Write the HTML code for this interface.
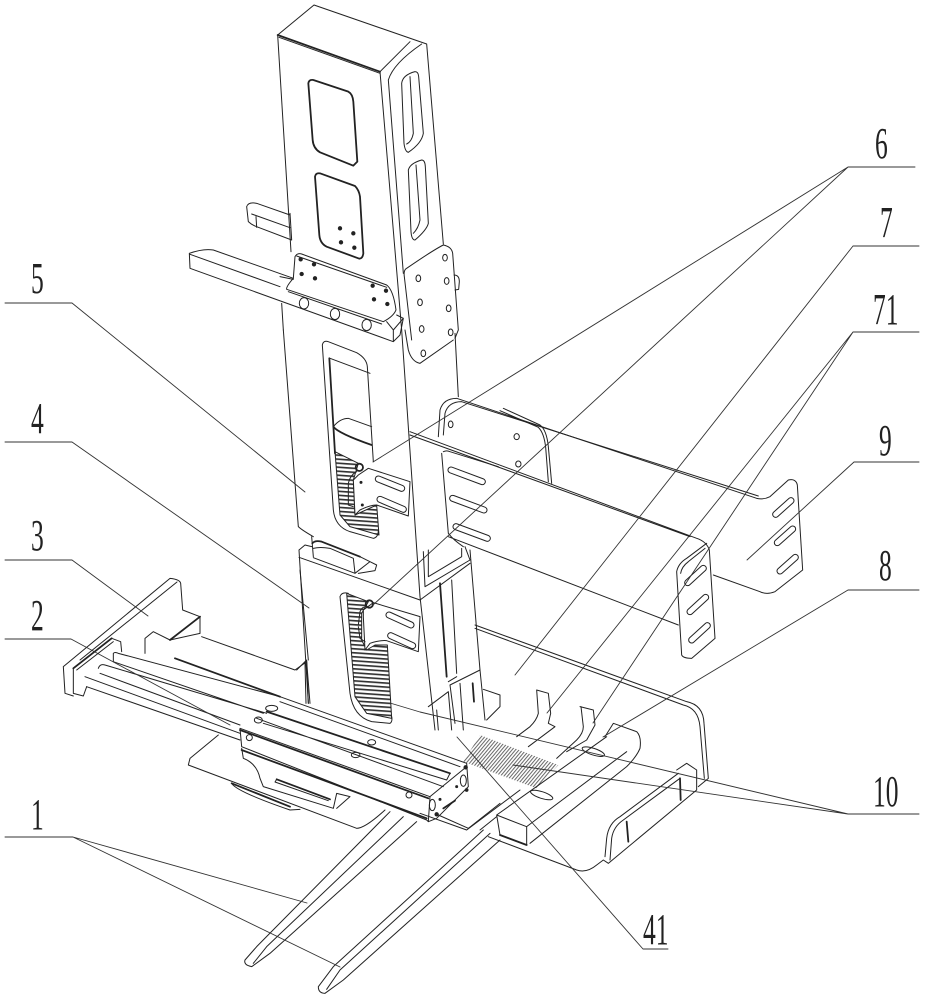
<!DOCTYPE html>
<html><head><meta charset="utf-8"><style>
html,body{margin:0;padding:0;background:#fff}
svg{display:block}
path,line,ellipse,circle{vector-effect:non-scaling-stroke;fill:none;stroke:#222;stroke-width:1;stroke-linejoin:round;stroke-linecap:round}
.t{stroke-width:1.8}
.l{stroke-width:.9;stroke:#333}
.sb{stroke-width:7;stroke:#222}
.sw{stroke-width:5;stroke:#fff}
.h{fill:#222;stroke-width:1}
text{font-family:"Liberation Serif",serif;font-size:44px;fill:#222}
</style></head><body>
<svg width="925" height="1000" viewBox="0 0 925 1000" xmlns="http://www.w3.org/2000/svg">
<defs>
<pattern id="hz" patternUnits="userSpaceOnUse" width="30" height="12" patternTransform="rotate(4)"><rect width="30" height="5" fill="#333"/></pattern>
<pattern id="dg" patternUnits="userSpaceOnUse" width="8" height="8" patternTransform="rotate(-50)"><rect width="8" height="3" fill="#666"/></pattern>
</defs>

<!-- Z1: upper column -->
<g transform="translate(180,20) scale(.33333)">
<path d="M293,45L402,-45L740,72L790,672"/>
<path class="t" d="M293,45L600,155"/>
<path d="M297,52L600,160M600,155L690,65M600,155L665,930M725,72Q640,130 625,180L670,760M293,45L333,695M305,850L310,930"/>
<path d="M665,190Q668,165 705,155Q715,155 716,170L730,340Q725,370 685,397Q675,395 672,370ZM690,170L700,340Q695,365 680,372"/>
<path d="M685,450Q690,430 725,420Q735,420 736,440L745,610Q740,630 705,660Q695,660 693,635ZM708,435L720,600Q715,625 700,640"/>
<path class="t" d="M385,190Q387,178 400,180L505,215Q518,222 520,245L532,425L520,437L420,397Q400,385 398,360Z"/>
<path class="t" d="M405,470Q407,458 420,460L525,498Q537,510 540,530L550,700Q548,716 538,716L440,680Q420,670 418,645Z"/>
<circle class="h" cx="480" cy="625" r="5"/><circle class="h" cx="520" cy="640" r="5"/><circle class="h" cx="483" cy="667" r="5"/><circle class="h" cx="523" cy="683" r="5"/>
<path d="M345,710Q352,698 365,702L620,795Q640,810 648,870Q640,890 610,905L320,808Q318,800 340,775Z"/>
<path d="M350,708L620,802M325,815L605,912"/>
<circle class="h" cx="362" cy="718" r="5"/><circle class="h" cx="402" cy="733" r="5"/><circle class="h" cx="365" cy="762" r="5"/><circle class="h" cx="405" cy="775" r="5"/><circle class="h" cx="578" cy="797" r="5"/><circle class="h" cx="618" cy="812" r="5"/><circle class="h" cx="582" cy="838" r="5"/><circle class="h" cx="622" cy="852" r="5"/>
<path d="M330,585L230,550Q205,545 200,560L205,605Q215,615 230,620L335,660M215,582L330,623M228,590L230,622M330,580L335,660"/>
<path d="M340,775L100,690Q70,685 28,700L30,745L640,965L660,945L670,895L650,885M30,703L300,800M300,770L340,778M640,930L640,962M620,905L640,930L670,895"/>
<ellipse cx="372" cy="850" rx="14" ry="17"/><ellipse cx="465" cy="882" rx="14" ry="17"/><ellipse cx="560" cy="915" rx="14" ry="17"/>
<path d="M680,745Q760,690 790,675Q815,680 818,700L835,930L825,955M680,745Q670,750 673,770L695,960M822,765Q838,765 838,785L836,808L825,810"/>
<ellipse cx="795" cy="713" rx="7" ry="10"/><ellipse cx="715" cy="775" rx="7" ry="10"/><ellipse cx="800" cy="783" rx="7" ry="10"/><ellipse cx="720" cy="847" rx="7" ry="10"/><ellipse cx="806" cy="865" rx="7" ry="10"/><ellipse cx="725" cy="927" rx="7" ry="10"/><ellipse cx="812" cy="937" rx="7" ry="10"/>
</g>

<!-- Z2: middle -->
<g transform="translate(280,330) scale(.33333)">
<path d="M375,0L385,60Q395,95 420,100L520,30"/>
<ellipse cx="430" cy="70" rx="7" ry="10"/>
<path d="M10,0L55,590Q65,600 100,620M365,0L420,800L465,1200M525,10L535,200"/>
<path d="M127,45Q130,30 145,35L230,68Q260,85 262,110L280,395M127,45L160,540Q165,590 210,605L280,625Q295,622 295,600"/>
<path class="t" d="M148,85L165,370"/>
<path d="M150,85L270,130"/>
<path class="t" d="M160,290Q175,310 275,345"/>
<path d="M160,290Q180,265 205,265L275,290"/>
<path d="M165,365L235,400L220,450L225,555L290,525L297,615L210,590L180,555Z" style="fill:url(#hz)"/>
<path d="M220,450L225,555L240,540Q270,525 290,525L385,558L390,455L265,415L235,435Z" style="fill:#fff"/>
<path class="sb" d="M295,447L365,475M300,508L370,538"/><path class="sw" d="M295,447L365,475M300,508L370,538"/>
<path d="M205,525L205,460Q210,435 230,425M220,530L205,525"/>
<circle cx="238" cy="412" r="11" class="t"/>
<circle class="h" cx="243" cy="457" r="3"/><circle class="h" cx="247" cy="525" r="3"/>

<path d="M200,790L265,815L245,850L245,930L260,960L285,945L322,945L335,1165L260,1150L225,1100Z" style="fill:url(#hz)"/>
<path d="M180,800Q185,785 205,790M180,800L210,1090Q220,1160 275,1175L330,1180Q338,1175 335,1160"/>
<path d="M250,860L255,960L270,940Q300,930 320,932L415,965L420,860L280,818L250,840Z" style="fill:#fff"/>
<path class="sb" d="M327,855L393,885M332,917L398,947"/><path class="sw" d="M327,855L393,885M332,917L398,947"/>
<path d="M235,885L240,845Q245,830 260,830M235,890L240,925L255,935"/>
<circle cx="268" cy="822" r="11" class="t"/>

<path d="M57,660L85,1120M95,620L100,680M57,682L420,810M57,660L75,645L95,650"/>
<path class="t" d="M97,640Q105,630 125,635L240,680"/>
<path d="M100,655Q120,650 150,655L220,685L225,730L270,695L290,705L285,722L235,730M240,680Q260,690 270,695M100,683L225,730"/>
<path d="M50,1020L80,990L85,1120M75,1000L78,1120"/>
<path d="M430,665L435,770L570,690L555,650M445,660L445,740L545,680L545,655M570,660L600,1020M420,810L570,700"/>
<path class="t" d="M480,760L500,1040"/>
<path d="M515,750L530,1030M510,1065L600,1020L615,1170M510,1065L525,1180M540,1060L550,1200M445,1130L505,1085L515,1200M470,1140L475,1200M610,1078L660,1095L660,1130L620,1170M505,1055L530,1040"/>
<path class="t" d="M578,1060L582,1115"/>
</g>

<!-- Z4: panels and base -->
<g transform="translate(420,390) scale(.33333)">
<path d="M55,140L60,60Q70,25 110,25L1010,325Q1030,330 1050,320L1105,270Q1128,265 1132,285L1148,540L1065,605Q1040,615 1020,605L880,555"/>
<path d="M70,135L75,70Q85,35 125,35L1015,318"/>
<path d="M250,55L360,105Q380,120 385,170L395,280M240,62L355,112Q372,128 377,172L385,275"/>
<ellipse cx="92" cy="103" rx="7" ry="10"/><ellipse cx="290" cy="140" rx="8" ry="9"/><ellipse cx="295" cy="222" rx="8" ry="9"/>
<path class="sb" d="M1067,373L1113,332M1072,458L1118,417M1080,543L1126,502"/><path class="sw" d="M1067,373L1113,332M1072,458L1118,417M1080,543L1126,502"/>
<path d="M-30,125L830,445Q860,455 868,480L885,745L815,805Q790,805 785,795L770,545Q775,520 800,505L860,460M-30,135L810,440M782,550Q785,530 805,515L855,475"/>
<path d="M65,190L85,430Q100,450 130,470M70,185Q80,180 90,185L235,230M85,440L775,705"/>
<path class="sb" d="M93,240L187,275M98,325L192,360M108,410L202,445"/><path class="sw" d="M93,240L187,275M98,325L192,360M108,410L202,445"/>
<path class="sb" d="M803,578L850,535M810,665L857,622M815,750L862,707"/><path class="sw" d="M803,578L850,535M810,665L857,622M815,750L862,707"/>
<path d="M165,705L800,935Q850,945 852,1000L865,1165L835,1190M165,715L790,945Q835,955 840,1010L853,1165"/>
<path d="M350,900L385,910L392,970L385,1000L405,1010L325,1070M350,900L355,970Q350,990 330,1010L290,1040"/>
<path d="M480,950L520,960L525,1005L500,1050L440,1085M483,950L490,1010Q490,1030 470,1050L410,1105"/>
<path d="M180,1035L415,1125L350,1195L130,1115Z" style="fill:url(#dg);stroke:none"/>
<path d="M555,1040L580,1000L650,1025Q665,1040 660,1075Q650,1100 620,1130L330,1360M230,1275L320,1310L320,1365L240,1335ZM230,1275L560,1040M320,1310L620,1085"/>
<path d="M205,1340L470,1440Q500,1450 530,1425L550,1410L565,1420L830,1200L830,1140L800,1120L770,1140M555,1400L560,1345Q565,1300 600,1280L775,1150M570,1410L575,1345Q580,1310 610,1290L780,1165"/>
<path class="t" d="M240,1335L320,1365M620,1295L625,1355M780,1165L782,1230"/>
<ellipse cx="365" cy="1215" rx="35" ry="10" transform="rotate(18 365 1215)"/><ellipse cx="520" cy="1085" rx="35" ry="10" transform="rotate(18 520 1085)"/>
<path d="M0,1270L140,1320L300,1200M180,1320L230,1280"/>
</g>

<!-- Z3: carriage, forks -->
<g transform="translate(50,570) scale(.33333)">
<path d="M40,290L360,25Q390,28 392,40L398,120L450,140L450,190L360,210L310,185L285,205L285,250M40,290L45,370L70,378M90,270L381,36"/>
<path class="t" d="M450,140L360,210"/>
<path d="M455,200L735,300L770,275L780,400M750,0L775,270"/>
<path class="t" d="M70,295L185,205"/>
<path d="M185,205L212,215L215,245M70,295L70,370L100,378L110,350M80,300L190,215"/>
<path d="M190,250Q195,245 205,250L690,380M190,250L190,275L640,430M145,295Q150,280 165,285L650,430M150,310L570,465M105,320L570,490M110,350L570,510"/>
<path class="t" d="M375,265L690,380"/>
<path d="M690,380L1250,580L1255,650L1160,745L1135,755M570,475L575,530L1130,750L1135,755L1140,680L570,475M1140,680L1250,590"/>
<path class="t" d="M570,480L1135,685M650,425L1200,610"/>
<path d="M620,445L1180,650M690,395L1230,590M640,460L1190,630M1190,630L1200,610"/>
<path class="t" d="M575,540L1130,745"/>
<ellipse cx="665" cy="415" rx="18" ry="9"/><ellipse cx="625" cy="450" rx="12" ry="9"/><circle cx="598" cy="503" r="9"/><ellipse cx="965" cy="517" rx="12" ry="8"/><ellipse cx="917" cy="555" rx="13" ry="8"/><circle cx="1077" cy="675" r="9"/><ellipse cx="1147" cy="705" rx="9" ry="17"/><ellipse cx="1240" cy="632" rx="9" ry="17"/>
<circle class="h" cx="1160" cy="733" r="5"/><circle class="h" cx="1247" cy="592" r="5"/><circle class="h" cx="1250" cy="660" r="4"/><circle class="h" cx="1220" cy="650" r="3"/><circle class="h" cx="1170" cy="688" r="3"/>
<path class="t" d="M1180,715L1215,692"/>
<path d="M505,495L420,565L415,585L920,775Q945,775 1005,720"/>
<path class="t" d="M545,640L720,710"/>
<path d="M545,640Q560,665 720,720L750,718"/>
<path d="M575,535L580,565Q620,580 630,625L640,650L850,715L860,670L900,680L860,715"/>
<path class="t" d="M680,628L840,688"/><path d="M680,628L675,636L835,692"/>
<path d="M1165,735L1255,775L1350,700"/>
<path d="M1020,725L620,1130L585,1170Q580,1185 605,1190L660,1150L1100,755M1060,740L650,1130L610,1180"/>
<path d="M1300,780L850,1190L805,1250Q805,1270 825,1270L880,1230L1350,810M1320,790L870,1200L830,1258"/>
</g>

<!-- Leaders -->
<path class="l" d="M5,303L72,303L305,492"/>
<path class="l" d="M5,442L72,442L309,608"/>
<path class="l" d="M5,560L72,560L148,616"/>
<path class="l" d="M5,639L71,639L230,725"/>
<path class="l" d="M5,837L73,837L307,903M73,837L340,967"/>
<path class="l" d="M915,167L848,167L373,462M848,167L373,605"/>
<path class="l" d="M919,246L853,246L515,675"/>
<path class="l" d="M919,332L853,332L547,713M853,332L593,723"/>
<path class="l" d="M919,462L854,462L747,560"/>
<path class="l" d="M919,590L848,590L603,737"/>
<path class="l" d="M919,814L848,814L420,712L390,703M848,814L513,765"/>
<path class="l" d="M668,949L643,949L457,737"/>

<text transform="translate(31,829) scale(.58,1)">1</text>
<text transform="translate(31,630) scale(.58,1)">2</text>
<text transform="translate(31,550) scale(.58,1)">3</text>
<text transform="translate(31,433) scale(.58,1)">4</text>
<text transform="translate(31,293) scale(.58,1)">5</text>
<text transform="translate(875,158) scale(.58,1)">6</text>
<text transform="translate(880,237) scale(.58,1)">7</text>
<text transform="translate(873,324) scale(.58,1)">71</text>
<text transform="translate(879,455) scale(.58,1)">9</text>
<text transform="translate(879,580) scale(.58,1)">8</text>
<text transform="translate(873,806) scale(.58,1)">10</text>
<text transform="translate(643,944) scale(.58,1)">41</text>
</svg>
</body></html>
